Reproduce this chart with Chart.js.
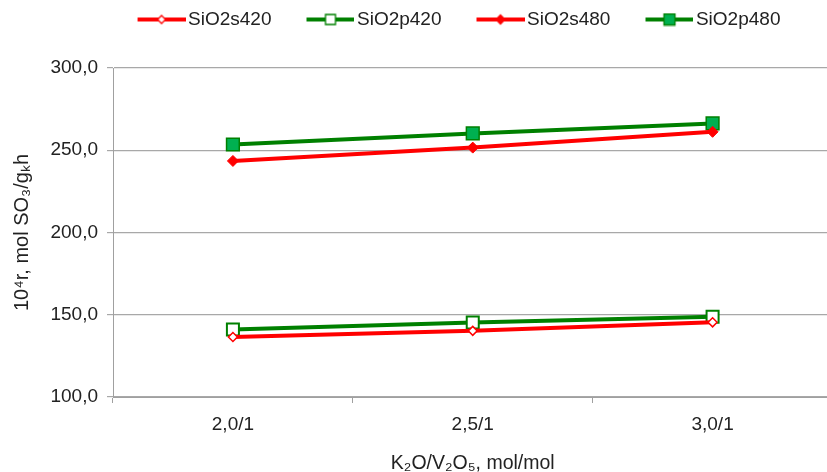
<!DOCTYPE html>
<html>
<head>
<meta charset="utf-8">
<script src="https://cdn.jsdelivr.net/npm/chart.js@4/dist/chart.umd.min.js"></script>
<style>
html,body{margin:0;padding:0;background:#fff;overflow:hidden;}
#clip{width:827px;height:472px;overflow:hidden;position:relative;}
#c{position:absolute;left:0;top:0;}
</style>
</head>
<body>
<div id="clip"><canvas id="c" width="843" height="472"></canvas></div>
<script>
const categories = ['2,0/1', '2,5/1', '3,0/1'];
const seriesNames = ['SiO2s420', 'SiO2p420', 'SiO2s480', 'SiO2p480'];
const sio2s420 = [136.5, 140.2, 145.4];
const sio2p420 = [141.0, 145.3, 148.8];
const sio2s480 = [243.5, 251.6, 261.2];
const sio2p480 = [253.5, 260.2, 266.3];
const yMin = 100, yMax = 300, yStep = 50;
const xTitle = 'K\u2082O/V\u2082O\u2085, mol/mol';
const yTitle = '10\u2074r, mol SO\u2083/g\u2096h';

const RED = '#ff0000', GREEN = '#008000', LGREEN = '#00b050';
const styles = [
  {color: RED,   shape: 'diamond', fill: '#ffffff', border: RED,   r: 4.5, bw: 1.5, lr: 4},
  {color: GREEN, shape: 'square',  fill: '#ffffff', border: GREEN, r: 8.5, bw: 2,   lr: 5},
  {color: RED,   shape: 'diamond', fill: RED,       border: RED,   r: 5.5, bw: 1,   lr: 4.5},
  {color: GREEN, shape: 'square',  fill: LGREEN,    border: GREEN, r: 9,   bw: 1.5, lr: 5.5}
];

function makeIcon(s) {
  const cv = document.createElement('canvas');
  cv.width = 80; cv.height = 14;
  const g = cv.getContext('2d');
  g.strokeStyle = s.color; g.lineWidth = 4;
  g.beginPath(); g.moveTo(32, 7); g.lineTo(80, 7); g.stroke();
  const cx = 56, cy = 7, r = s.lr;
  g.beginPath();
  if (s.shape === 'diamond') {
    g.moveTo(cx, cy - r); g.lineTo(cx + r, cy); g.lineTo(cx, cy + r); g.lineTo(cx - r, cy); g.closePath();
  } else {
    g.rect(cx - r, cy - r, 2 * r, 2 * r);
  }
  g.fillStyle = s.fill; g.fill();
  g.strokeStyle = s.border; g.lineWidth = 1.3; g.stroke();
  return cv;
}
const icons = styles.map(makeIcon);

const dataArrays = [sio2s420, sio2p420, sio2s480, sio2p480];
const datasets = dataArrays.map((d, i) => ({
  label: seriesNames[i],
  data: d,
  borderColor: styles[i].color,
  borderWidth: 4,
  backgroundColor: styles[i].fill,
  pointStyle: styles[i].shape === 'diamond' ? 'rectRot' : 'rect',
  pointRadius: styles[i].r,
  pointHoverRadius: styles[i].r,
  pointBackgroundColor: styles[i].fill,
  pointBorderColor: styles[i].border,
  pointBorderWidth: styles[i].bw,
  tension: 0,
  fill: false
}));

const legendTweak = {
  id: 'legendTweak',
  beforeInit(chart) {
    const lg = chart.legend;
    const origFit = lg.fit;
    lg.fit = function () { origFit.call(this); this.height = 68; };
    const origDraw = lg.draw;
    lg.draw = function () {
      const c = this.ctx; c.save(); c.translate(25, 0); origDraw.call(this); c.restore();
    };
  }
};

const fontFam = '"Liberation Sans", Arial, sans-serif';

new Chart(document.getElementById('c'), {
  type: 'line',
  data: {labels: categories, datasets: datasets},
  plugins: [legendTweak],
  options: {
    responsive: false,
    animation: false,
    layout: {padding: 0},
    plugins: {
      tooltip: {enabled: false},
      legend: {
        position: 'top',
        labels: {
          usePointStyle: true,
          pointStyleWidth: 66,
          padding: 10,
          color: '#222',
          font: {family: fontFam, size: 19},
          generateLabels: (chart) => chart.data.datasets.map((ds, i) => ({
            text: ds.label,
            pointStyle: icons[i],
            fillStyle: 'rgba(0,0,0,0)',
            strokeStyle: 'rgba(0,0,0,0)',
            lineWidth: 0,
            hidden: false,
            fontColor: '#222',
            datasetIndex: i
          }))
        }
      }
    },
    scales: {
      x: {
        type: 'category',
        offset: true,
        grid: {
          display: true,
          offset: true,
          drawOnChartArea: false,
          drawTicks: true,
          tickLength: 6,
          color: '#a0a0a0'
        },
        border: {display: true, color: '#a0a0a0', width: 1},
        ticks: {color: '#222', font: {family: fontFam, size: 19}, padding: 10, maxRotation: 0},
        title: {display: true, text: xTitle, color: '#222', font: {family: fontFam, size: 19.5}, padding: {top: 0, bottom: -3}},
        afterFit(scale) { scale.height = 75; }
      },
      y: {
        min: yMin, max: yMax,
        grid: {color: '#a8a8a8', lineWidth: 1.2, tickLength: 6, drawTicks: true},
        border: {display: true, color: '#a0a0a0', width: 1},
        ticks: {
          stepSize: yStep,
          color: '#222',
          font: {family: fontFam, size: 19},
          padding: 9,
          callback: (v) => v.toFixed(1).replace('.', ',')
        },
        title: {display: true, text: yTitle, color: '#222', font: {family: fontFam, size: 20}, padding: {top: 10, bottom: 0}},
        afterFit(scale) { scale.width = 113; }
      }
    }
  }
});
</script>
</body>
</html>
